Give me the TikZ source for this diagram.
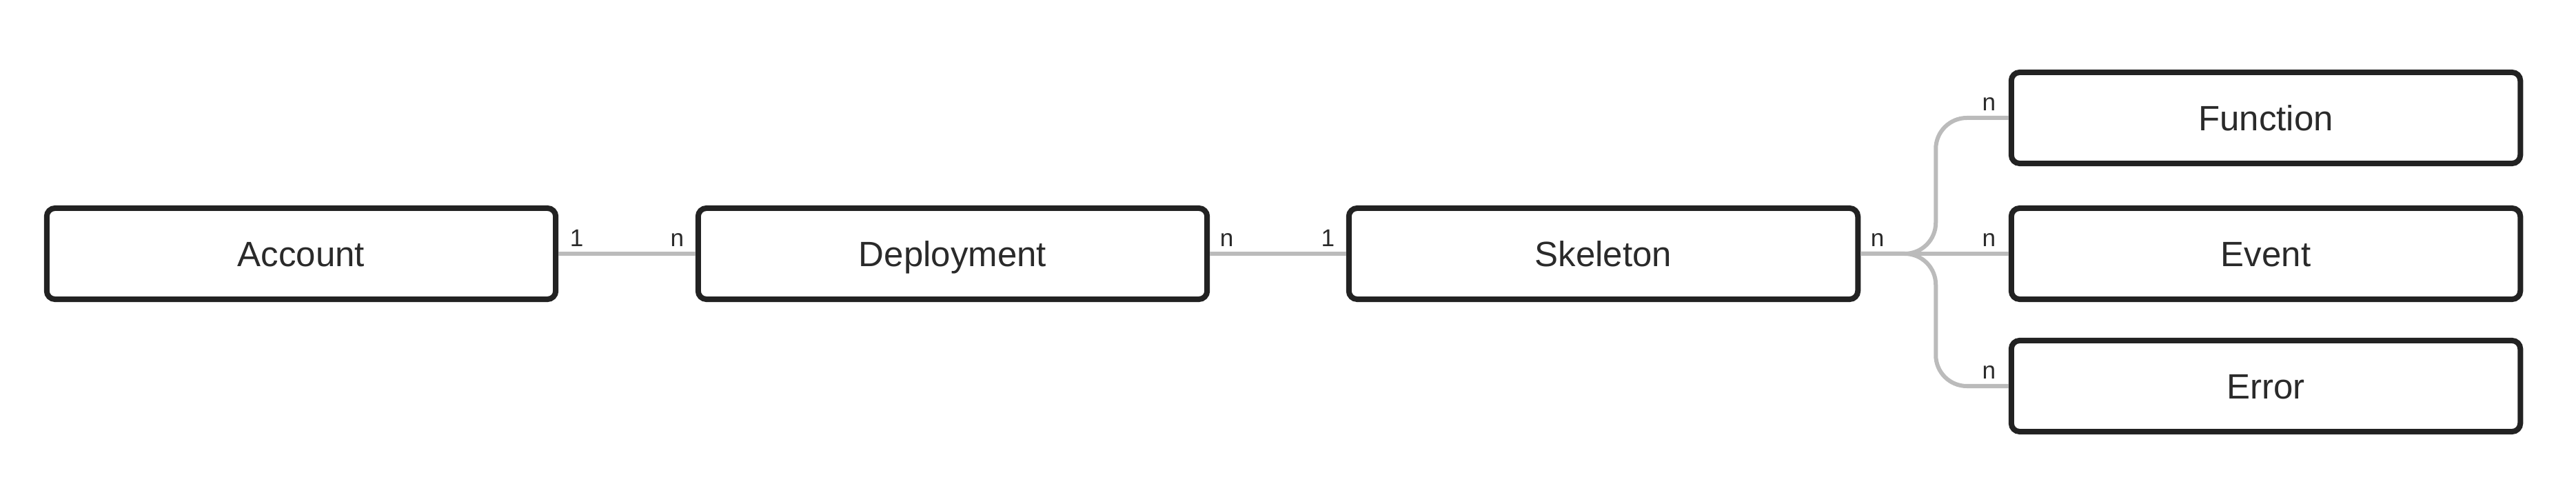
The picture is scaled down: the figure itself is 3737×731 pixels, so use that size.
\documentclass[tikz,border=0pt]{standalone}
\usepackage{fontspec}
\setmainfont{Liberation Sans}
\definecolor{boxc}{HTML}{222222}
\definecolor{txt}{HTML}{2A2A2A}
\definecolor{linec}{HTML}{BBBBBB}
\begin{document}
\begin{tikzpicture}[x=0.01cm,y=-0.01cm,
  entity/.style={draw=boxc, line width=0.08cm, rounded corners=0.12cm,
    minimum width=7.38cm, minimum height=1.32cm, fill=white, text=txt,
    font=\fontsize{14.5}{16}\selectfont, inner sep=0pt,
    text height=10.4pt, text depth=0pt},
  conn/.style={draw=linec, line width=0.06cm},
  card/.style={font=\fontsize{10}{11}\selectfont, text=txt, inner sep=0pt}]
\useasboundingbox[fill=white] (0,0) rectangle (3737,731);
\node[entity] (acc) at (437,368) {Account};
\node[entity] (dep) at (1382,368) {Deployment};
\node[entity] (sk) at (2326,368) {Skeleton};
\node[entity] (fn) at (3287,171) {Function};
\node[entity] (ev) at (3287,368) {Event};
\node[entity] (er) at (3287,560) {Error};
\draw[conn] (acc.east) -- (dep.west);
\draw[conn] (dep.east) -- (sk.west);
\draw[conn] (sk.east) -- (ev.west);
\draw[conn, rounded corners=0.45cm] (sk.east) -- ++(109,0) |- (fn.west);
\draw[conn, rounded corners=0.45cm] (sk.east) -- ++(109,0) |- (er.west);
\node[card, anchor=base west] (c1) at ([shift={(16,-10)}]acc.east) {1};
\node[card, anchor=base east] (c2) at ([shift={(-16,-10)}]dep.west) {n};
\node[card, anchor=base west] (c3) at ([shift={(14,-10)}]dep.east) {n};
\node[card, anchor=base east] (c4) at ([shift={(-16,-10)}]sk.west) {1};
\node[card, anchor=base west] (c5) at ([shift={(14,-10)}]sk.east) {n};
\node[card, anchor=base east] (c6) at ([shift={(-18,-10)}]fn.west) {n};
\node[card, anchor=base east] (c7) at ([shift={(-18,-10)}]ev.west) {n};
\node[card, anchor=base east] (c8) at ([shift={(-18,-10)}]er.west) {n};
\end{tikzpicture}
\end{document}
